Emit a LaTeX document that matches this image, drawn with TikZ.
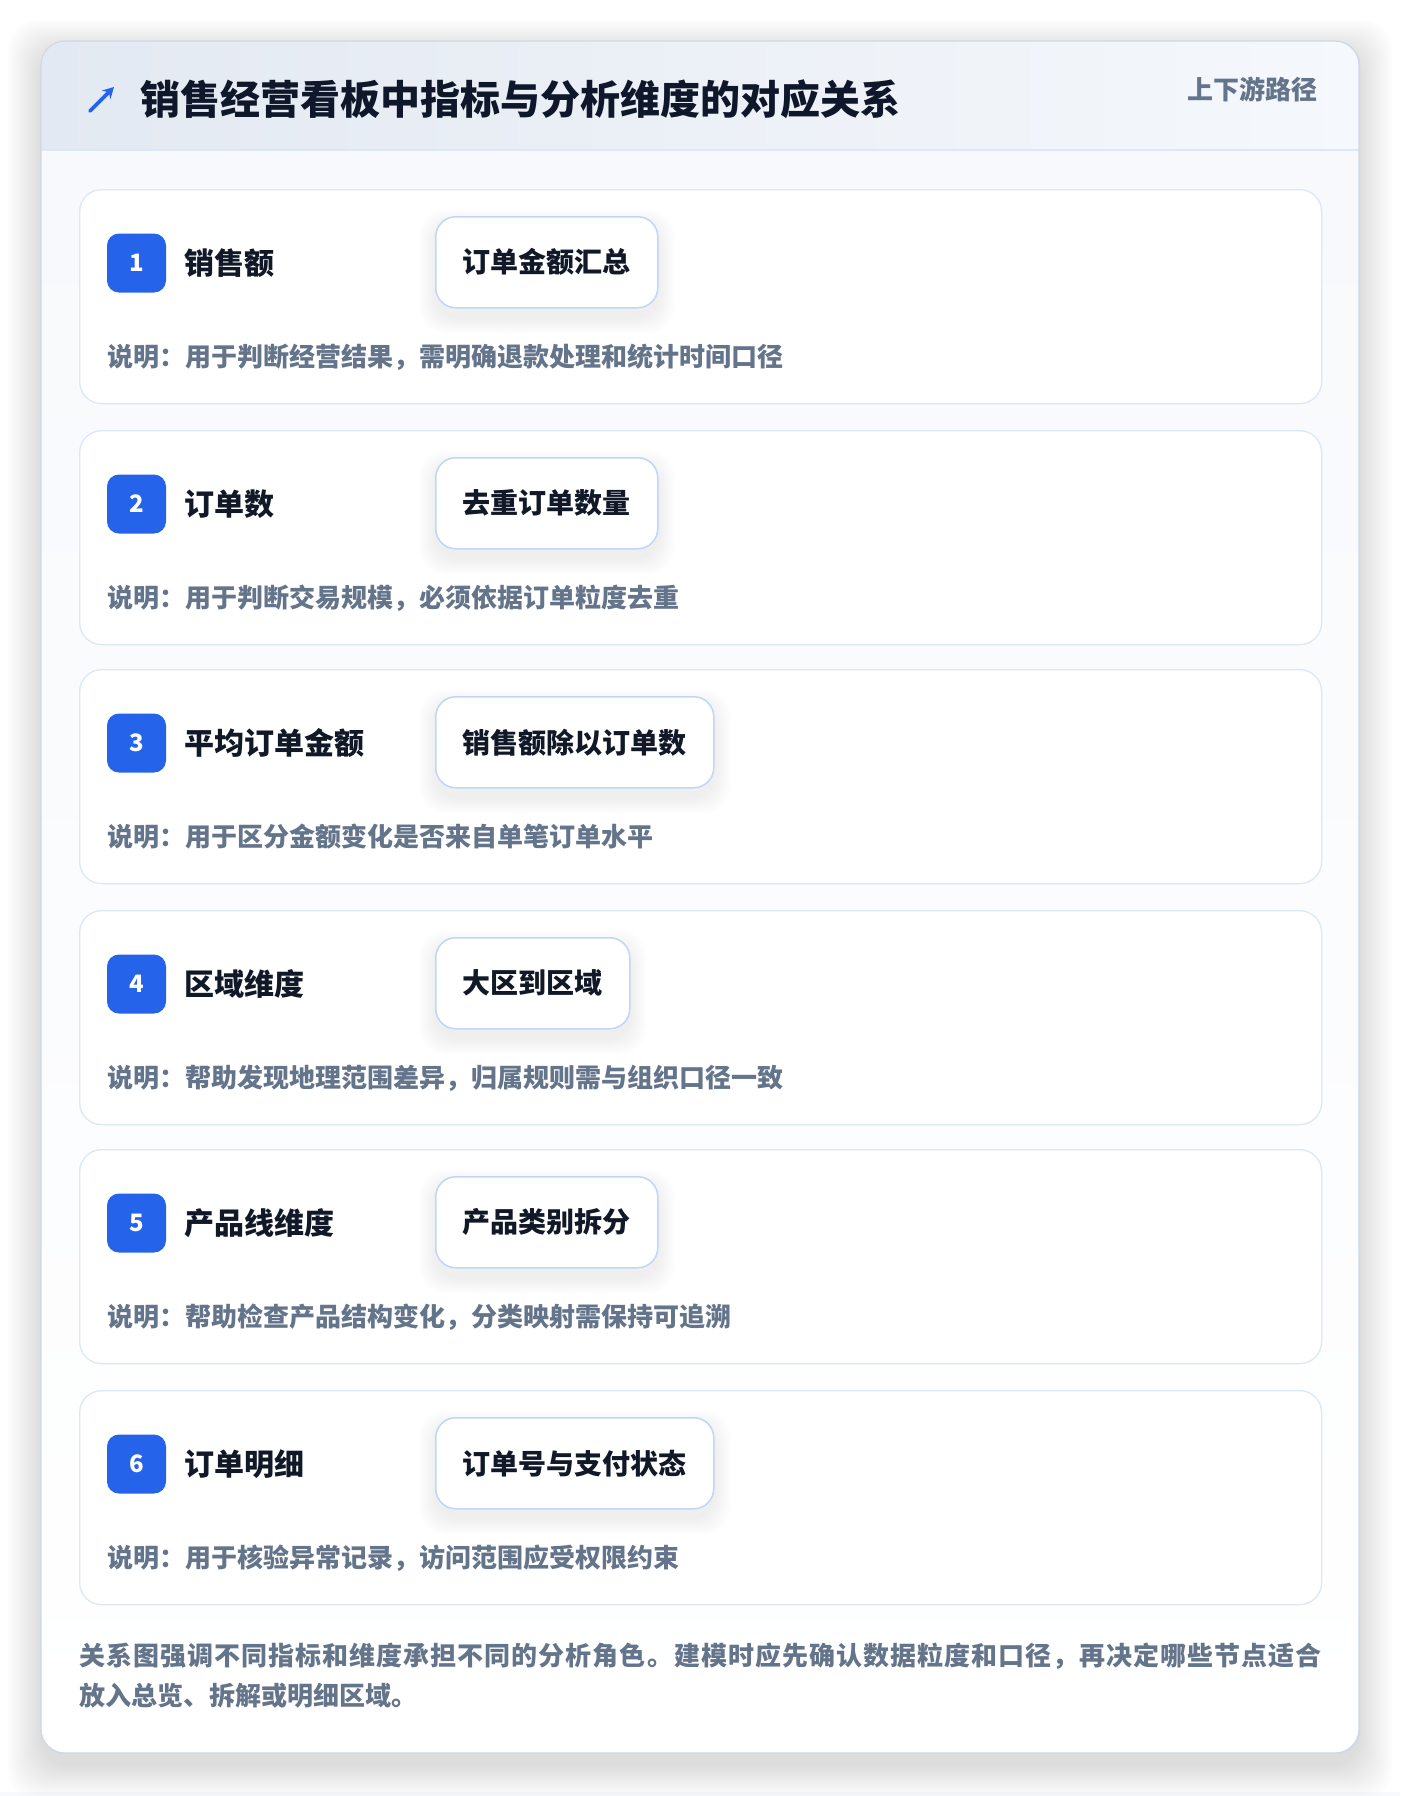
\documentclass[tikz,border=0pt]{standalone}
\usepackage{fontspec}
\setmainfont{Noto Sans CJK SC}
\usetikzlibrary{calc,arrows.meta}
\definecolor{badgec}{HTML}{2563EB}
\definecolor{rowline}{HTML}{DCE7F7}
\definecolor{tagline}{HTML}{BFD6F6}
\definecolor{descc}{HTML}{64748B}
\definecolor{lblc}{HTML}{111827}
\definecolor{titlec}{HTML}{0F172A}
\definecolor{hdrL}{HTML}{E3E9F2}
\definecolor{hdrR}{HTML}{F5F8FC}
\definecolor{bodyT}{HTML}{F7F9FC}
\definecolor{cardline}{HTML}{CFD8E4}
\definecolor{hdrline}{HTML}{DCE7F7}
\definecolor{shadc}{HTML}{1E293B}
\pgfdeclarelayer{rowlayer}
\pgfdeclarelayer{shadlayer}
\pgfsetlayers{rowlayer,shadlayer,main}
\tikzset{
  cardbox/.style={draw=cardline, line width=1.2pt, fill=white, rounded corners=24pt,
    minimum width=1318pt, minimum height=1712pt, inner sep=0pt},
  rowbox/.style={draw=rowline, line width=1.3pt, fill=white, rounded corners=22pt,
    minimum width=1242pt, minimum height=214pt, inner sep=0pt},
  badge/.style={fill=badgec, rounded corners=12pt, minimum size=59pt, inner sep=0pt,
    text=white, font=\fontsize{24}{28}\selectfont\bfseries},
  lbl/.style={inner sep=0pt, text=lblc, font=\fontsize{30}{36}\selectfont\bfseries},
  tagbox/.style={draw=tagline, line width=1.5pt, fill=white, rounded corners=20pt,
    minimum height=91pt, inner xsep=27pt, inner ysep=0pt, text=lblc,
    font=\fontsize{28}{34}\selectfont\bfseries},
  desc/.style={inner sep=0pt, text=descc, font=\fontsize{26}{30}\selectfont\bfseries},
  foot/.style={inner sep=0pt, text=descc, font=\fontsize{26}{30}\selectfont\bfseries},
  shadstep/.style={fill=shadc, draw=none},
}
% soft shadow behind a node: #1 node, #2 steps, #3 opacity per step, #4 y offset, #5 radius
\newcommand\nodeshadow[5]{%
  \foreach \k in {1,...,#2}{%
    \fill[shadstep, opacity=#3, rounded corners=#5]
      ($(#1.north west)+(-\k,-\k+#4)$) rectangle ($(#1.south east)+(\k,\k+#4)$);
  }%
}
\newcommand\rowitem[5]{%
  \begin{pgfonlayer}{rowlayer}
  \node[rowbox, anchor=north west] (r#1) at (79,#2) {};
  \end{pgfonlayer}
  \node[badge] (b#1) at (136.5,#2+74) {#1};
  \node[lbl, anchor=west] (l#1) at (184,#2+74) {#3};
  \node[tagbox, anchor=north west] (t#1) at (435,#2+27) {#4};
  \node[desc, anchor=west] (d#1) at (107,#2+168) {#5};
  \begin{pgfonlayer}{shadlayer}
  \nodeshadow{t#1}{16}{0.0045}{9}{24pt}
  \end{pgfonlayer}
}
\begin{document}
\begin{tikzpicture}[x=1pt,y=-1pt]
\useasboundingbox (0,0) rectangle (1400,1796);
\begin{pgfonlayer}{rowlayer}
\fill[white] (0,0) rectangle (1400,1796);
\fill[bodyT] (0,1792) rectangle (1400,1796);
\coordinate (cnw) at (41,41);
\coordinate (cse) at (1359,1753);
\foreach \k in {1,...,34}{%
  \fill[shadstep, opacity=0.0028, rounded corners=30pt]
    ($(cnw)+(-\k,-\k+12)$) rectangle ($(cse)+(\k,\k+12)$);
}
\node[cardbox, anchor=north west] (card) at (cnw) {};
\begin{scope}
  \clip[rounded corners=24pt] (41,41) rectangle (1359,1753);
  \shade[top color=bodyT, bottom color=white] (41,150) rectangle (1359,1753);
  \shade[left color=hdrL, right color=hdrR] (41,41) rectangle (1359,150);
\end{scope}
\draw[hdrline, line width=1.5pt] (41,150) -- (1359,150);
\draw[cardline, line width=1.2pt, rounded corners=24pt] (41,41) rectangle (1359,1753);
\end{pgfonlayer}
% header
\coordinate (ia) at (90,111);
\coordinate (ib) at (114,87);
\draw[badgec, line width=3.6pt, line cap=round, -{Stealth[length=11pt,width=12pt]}] (ia) -- (ib);
\node[inner sep=0pt, anchor=west, text=titlec, font=\fontsize{40}{48}\selectfont\bfseries] (title) at (140,99) {销售经营看板中指标与分析维度的对应关系};
\node[inner sep=0pt, anchor=east, text=descc, font=\fontsize{26}{30}\selectfont\bfseries] (hdrr) at (1318,89) {上下游路径};
% rows
\rowitem{1}{189}{销售额}{订单金额汇总}{说明：用于判断经营结果，需明确退款处理和统计时间口径}
\rowitem{2}{430}{订单数}{去重订单数量}{说明：用于判断交易规模，必须依据订单粒度去重}
\rowitem{3}{669}{平均订单金额}{销售额除以订单数}{说明：用于区分金额变化是否来自单笔订单水平}
\rowitem{4}{910}{区域维度}{大区到区域}{说明：帮助发现地理范围差异，归属规则需与组织口径一致}
\rowitem{5}{1149}{产品线维度}{产品类别拆分}{说明：帮助检查产品结构变化，分类映射需保持可追溯}
\rowitem{6}{1390}{订单明细}{订单号与支付状态}{说明：用于核验异常记录，访问范围应受权限约束}
% footer
\node[foot, anchor=west] (f1) at (79,1656) {\addfontfeature{LetterSpace=4}关系图强调不同指标和维度承担不同的分析角色。建模时应先确认数据粒度和口径，再决定哪些节点适合};
\node[foot, anchor=west] (f2) at (79,1696) {放入总览、拆解或明细区域。};
\end{tikzpicture}
\end{document}
